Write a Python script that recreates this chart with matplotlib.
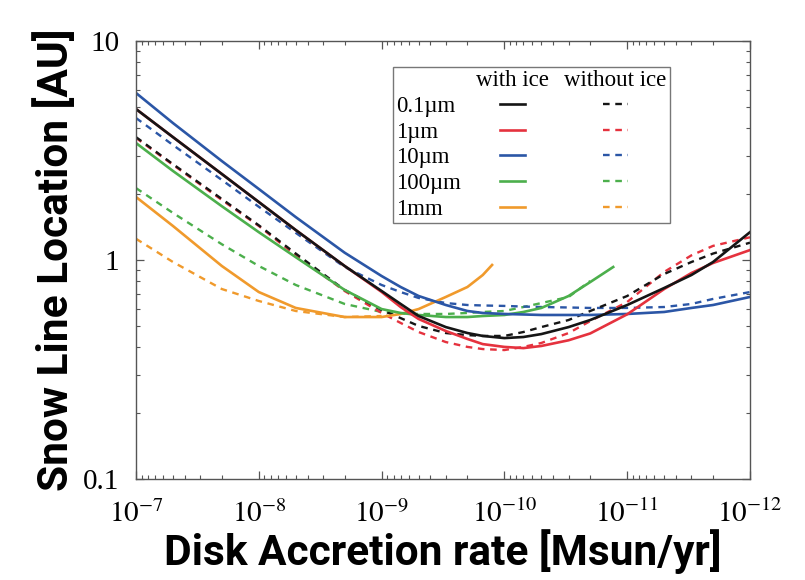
import numpy as np
import matplotlib
matplotlib.use('Agg')
import matplotlib.pyplot as plt
from matplotlib.lines import Line2D
from matplotlib import rcParams
rcParams['font.family'] = ['Liberation Serif', 'DejaVu Serif']
rcParams['mathtext.fontset'] = 'stix'
rcParams['xtick.direction'] = 'in'
rcParams['ytick.direction'] = 'in'
rcParams['xtick.top'] = True
rcParams['ytick.right'] = True

# disk accretion rate [Msun/yr] where the curves were read
mdot = [1e-7, 5e-8, 2e-8, 1e-8, 5e-9, 2e-9, 1e-9, 7e-10, 5e-10, 3e-10, 2e-10,
        1.5e-10, 1e-10, 7e-11, 5e-11, 3e-11, 2e-11, 1e-11, 5e-12, 3e-12, 2e-12, 1e-12]
mdot_green = mdot[:17] + [1.3e-11]
mdot_green_noice = mdot[:17]
mdot_orange = mdot[:12] + [1.26e-10]
mdot_orange_noice = mdot[:7]

# snow line location [AU], with ice
r_01um = [4.89, 3.64, 2.47, 1.84, 1.37, 0.939, 0.722, 0.630, 0.555, 0.494, 0.464,
          0.450, 0.440, 0.445, 0.459, 0.494, 0.532, 0.623, 0.745, 0.854, 0.979, 1.34]
r_1um = [4.89, 3.64, 2.47, 1.84, 1.37, 0.939, 0.715, 0.610, 0.538, 0.474, 0.436,
         0.413, 0.401, 0.396, 0.405, 0.430, 0.462, 0.565, 0.737, 0.872, 0.969, 1.11]
r_10um = [5.79, 4.22, 2.83, 2.11, 1.57, 1.08, 0.845, 0.753, 0.685, 0.623, 0.585,
          0.573, 0.567, 0.564, 0.561, 0.561, 0.561, 0.567, 0.579, 0.604, 0.623, 0.678]
r_100um = [3.42, 2.55, 1.76, 1.34, 1.03, 0.730, 0.597, 0.573, 0.561, 0.549, 0.549,
           0.555, 0.561, 0.579, 0.604, 0.685, 0.793, 0.929]
r_1mm = [1.94, 1.43, 0.939, 0.714, 0.604, 0.549, 0.549, 0.567, 0.597, 0.678, 0.753,
         0.854, 0.949]

# snow line location [AU], without ice
r_01um_noice = [3.64, 2.74, 1.90, 1.44, 1.07, 0.730, 0.591, 0.543, 0.500, 0.464, 0.454,
                0.450, 0.450, 0.469, 0.494, 0.532, 0.585, 0.685, 0.863, 0.979, 1.07, 1.20]
r_1um_noice = [3.61, 2.72, 1.88, 1.43, 1.05, 0.722, 0.573, 0.516, 0.469, 0.422, 0.401,
               0.392, 0.388, 0.401, 0.418, 0.464, 0.526, 0.643, 0.882, 1.05, 1.16, 1.27]
r_10um_noice = [4.45, 3.35, 2.32, 1.75, 1.33, 0.929, 0.769, 0.714, 0.671, 0.636, 0.623,
                0.620, 0.617, 0.613, 0.610, 0.607, 0.604, 0.604, 0.610, 0.630, 0.664, 0.714]
r_100um_noice = [2.13, 1.64, 1.18, 0.939, 0.769, 0.630, 0.579, 0.570, 0.567, 0.567, 0.573,
                 0.579, 0.585, 0.610, 0.636, 0.678, 0.802]
r_1mm_noice = [1.25, 0.979, 0.737, 0.650, 0.585, 0.549, 0.555]

sizes = ['0.1\u00b5m', '1\u00b5m', '10\u00b5m', '100\u00b5m', '1mm']
colors = ['#151515', '#e5323e', '#2b56a6', '#4caf4c', '#f09a2c']
with_ice = [(mdot, r_01um), (mdot, r_1um), (mdot, r_10um),
            (mdot_green, r_100um), (mdot_orange, r_1mm)]
without_ice = [(mdot, r_01um_noice), (mdot, r_1um_noice), (mdot, r_10um_noice),
               (mdot_green_noice, r_100um_noice), (mdot_orange_noice, r_1mm_noice)]

xticks = [1e-7, 1e-8, 1e-9, 1e-10, 1e-11, 1e-12]
xticklabels = [r'$10^{-7}$', r'$10^{-8}$', r'$10^{-9}$', r'$10^{-10}$',
               r'$10^{-11}$', r'$10^{-12}$']
yticks = [0.1, 1, 10]
yticklabels = ['0.1', '1', '10']

fig = plt.figure(figsize=(8.05, 5.8), dpi=100)
ax = fig.add_axes([136 / 805, 1 - 479 / 580, 614 / 805, 438 / 580])

dash = (0, (2.8, 2.4))
solid_lines = [None] * 5
dashed_lines = [None] * 5
# dashed first, then solid, small grains last so black ends up on top
for i in reversed(range(5)):
    x, y = without_ice[i]
    dashed_lines[i], = ax.plot(x, y, color=colors[i], lw=1.7, linestyle=dash)
for i in reversed(range(5)):
    x, y = with_ice[i]
    solid_lines[i], = ax.plot(x, y, color=colors[i], lw=1.9)

ax.set_xscale('log')
ax.set_yscale('log')
ax.set_xlim(1e-7, 1e-12)
ax.set_ylim(0.1, 10)
ax.set_xticks(xticks)
ax.set_xticklabels(xticklabels)
ax.set_yticks(yticks)
ax.set_yticklabels(yticklabels)
ax.tick_params(which='major', length=6, width=0.9, color='#555555', labelsize=21)
ax.tick_params(which='minor', length=3, width=0.8, color='#555555')
ax.tick_params(axis='x', pad=15)
ax.tick_params(axis='y', pad=12)
for s in ax.spines.values():
    s.set_color('#555555')
    s.set_linewidth(1.0)

labfont = dict(family=['Roboto', 'DejaVu Sans'], weight='bold', size=30.5)
ax.set_xlabel('Disk Accretion rate [Msun/yr]', labelpad=1, **labfont)
ax.set_ylabel('Snow Line Location [AU]', labelpad=4, **labfont)

# legend: size names | with ice | without ice
blank = Line2D([], [], linestyle='none')
handles = [blank] * 6 + [blank] + solid_lines + [blank] + dashed_lines
labels = [''] + sizes + ['with ice'] + [''] * 5 + ['without ice'] + [''] * 5
leg = ax.legend(handles, labels, ncol=3, loc='upper left',
                bbox_to_anchor=(0.4186, 0.9406), borderaxespad=0,
                handlelength=1.1, handletextpad=0, columnspacing=0.65,
                labelspacing=0.2, borderpad=0.15, fancybox=False,
                edgecolor='#777777', framealpha=1, fontsize=16.5)
leg.get_frame().set_linewidth(1.0)
for ci, col in enumerate(leg._legend_handle_box.get_children()):
    if ci > 0:
        col.align = 'center'
    for ri, item in enumerate(col.get_children()):
        if ci == 0 or ri == 0:
            item.get_children()[0].width = 0

fig.savefig('out.png', dpi=100)
